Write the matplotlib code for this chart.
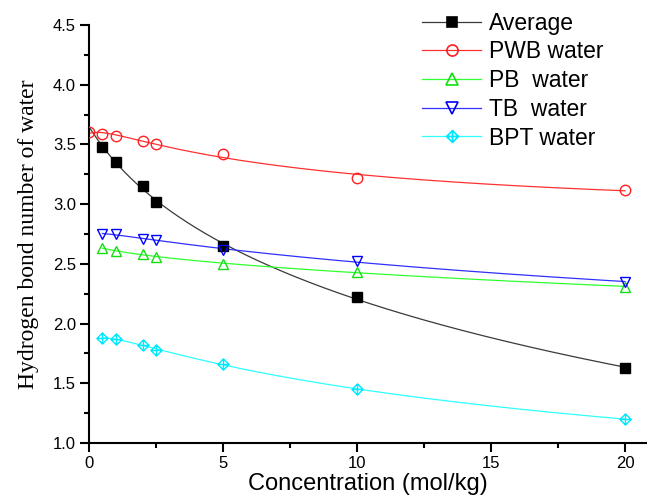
import numpy as np
import matplotlib
matplotlib.use("Agg")
import matplotlib.pyplot as plt
from matplotlib.path import Path
from matplotlib.ticker import MultipleLocator

# concentration (mol/kg)
conc = [0.5, 1, 2, 2.5, 5, 10, 20]
conc_pwb = [0, 0.5, 1, 2, 2.5, 5, 10, 20]

avg = [3.48, 3.35, 3.15, 3.02, 2.65, 2.22, 1.63]
pwb = [3.60, 3.59, 3.57, 3.53, 3.50, 3.42, 3.22, 3.12]
pb  = [2.63, 2.61, 2.58, 2.56, 2.50, 2.43, 2.31]
tb  = [2.75, 2.75, 2.71, 2.70, 2.62, 2.52, 2.35]
bpt = [1.88, 1.87, 1.82, 1.78, 1.66, 1.45, 1.20]

# diamond with a cross inside (Origin style)
bpt_marker = Path(
    [(0, 1), (1, 0), (0, -1), (-1, 0), (0, 1), (0, 1), (0, -1), (-1, 0), (1, 0)],
    [Path.MOVETO, Path.LINETO, Path.LINETO, Path.LINETO, Path.CLOSEPOLY,
     Path.MOVETO, Path.LINETO, Path.MOVETO, Path.LINETO])


def fit_curve(x, y, x0, deg=3):
    # smooth fitted line through the points, in log(1+x)
    c = np.polyfit(np.log1p(x), y, deg)
    xs = np.linspace(x0, max(x), 300)
    return xs, np.polyval(c, np.log1p(xs))


fig = plt.figure(figsize=(6.47, 4.97), dpi=100)
ax = fig.add_axes([0.1376, 0.1087, 0.8624, 0.841])

series = [
    ("Average",    conc,     avg, "#3a3a3a", "k",       "s", "k",    0.0),
    ("PWB water",  conc_pwb, pwb, "#ff3030", "#ff2020", "o", "none", 0.0),
    ("PB  water",  conc,     pb,  "#30ff30", "#10e010", "^", "none", 0.5),
    ("TB  water",  conc,     tb,  "#3030ff", "#0000ff", "v", "none", 0.5),
    ("BPT water",  conc,     bpt, "#30ffff", "#00e8ff", bpt_marker, "none", 0.5),
]
sizes = {"s": 6.5, "o": 7.5, "^": 7.5, "v": 7.5}

for label, x, y, lc, mc, mk, fc, x0 in series:
    xs, ys = fit_curve(x, y, x0)
    ax.plot(xs, ys, color=lc, lw=0.9, zorder=2)
    ms = sizes.get(mk, 8) if isinstance(mk, str) else 8
    ax.plot(x, y, ls="none", marker=mk, ms=ms, mfc=fc, mec=mc, mew=1.0, zorder=3)
    ax.plot([], [], color=lc, lw=0.9, marker=mk, ms=ms + 0.5, mfc=fc, mec=mc,
            mew=1.2, label=label)

ax.set_xlim(0, 20.82)
ax.set_ylim(1.0, 4.5)
ax.xaxis.set_major_locator(MultipleLocator(5))
ax.xaxis.set_minor_locator(MultipleLocator(2.5))
ax.yaxis.set_major_locator(MultipleLocator(0.5))
ax.yaxis.set_minor_locator(MultipleLocator(0.25))
ax.set_xticks([0, 5, 10, 15, 20])
ax.set_xticklabels(["0", "5", "10", "15", "20"])

for s in ["top", "right"]:
    ax.spines[s].set_visible(False)
for s in ["left", "bottom"]:
    ax.spines[s].set_linewidth(1.5)
ax.tick_params(which="major", direction="out", length=6.5, width=1.5,
               labelsize=12, pad=3)
ax.tick_params(which="minor", direction="out", length=3.5, width=1.5)
for t in ax.get_xticklabels() + ax.get_yticklabels():
    t.set_family("Liberation Sans")

ax.set_xlabel("Concentration (mol/kg)", family="Liberation Sans", fontsize=17,
              labelpad=1)
ax.set_ylabel("Hydrogen bond number of water", family="Liberation Serif",
              fontsize=17, labelpad=10)

leg = ax.legend(loc="upper left", bbox_to_anchor=(0.58, 1.054), frameon=False,
                prop={"family": "Liberation Sans", "size": 16.5},
                handlelength=2.6, handletextpad=0.35, labelspacing=0.25,
                borderaxespad=0)

fig.savefig("out.png", dpi=100)
